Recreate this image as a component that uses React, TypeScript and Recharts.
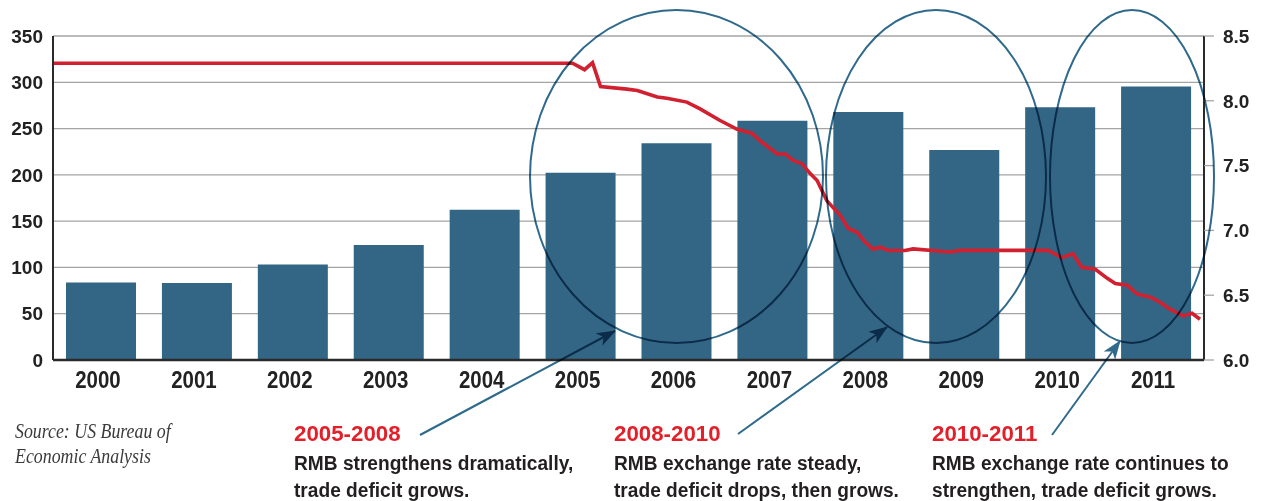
import React from 'react';
import { ComposedChart, Bar, Line, XAxis, YAxis, CartesianGrid } from 'recharts';

// US trade deficit with China, billions USD
const years = ['2000', '2001', '2002', '2003', '2004', '2005', '2006', '2007', '2008', '2009', '2010', '2011'];
const deficits = [83.8, 83.1, 103.1, 124.1, 162.3, 202.3, 234.1, 258.5, 268.0, 226.9, 273.1, 295.5];

// RMB per USD, keyed by months since Jan 2000
const rateMonths = [0, 65, 66.5, 67.5, 68.5, 71.8, 73.1, 75.6, 76.8, 79.3, 80.9, 83.4, 85.6, 87.4, 88.7, 90.6, 91.6, 92.6, 93.7, 94.7, 95.6, 96.8, 98.5, 99.5, 100.6, 101.6, 102.6, 103.5, 104.5, 106.6, 107.6, 112.2, 113.5, 124.5, 126.2, 127.6, 128.7, 130.4, 131.9, 132.9, 134.4, 135.6, 137.3, 138.5, 139.8, 141.4, 142.5, 143.5];
const rateValues = [8.29, 8.29, 8.24, 8.295, 8.11, 8.09, 8.08, 8.03, 8.02, 7.99, 7.94, 7.85, 7.78, 7.75, 7.68, 7.59, 7.59, 7.54, 7.515, 7.44, 7.385, 7.23, 7.115, 7.015, 6.985, 6.91, 6.855, 6.87, 6.845, 6.845, 6.857, 6.833, 6.846, 6.846, 6.79, 6.82, 6.715, 6.7, 6.63, 6.59, 6.577, 6.51, 6.485, 6.446, 6.39, 6.34, 6.36, 6.315];

const leftTicks = [0, 50, 100, 150, 200, 250, 300, 350];
const rightTicks = [6.0, 6.5, 7.0, 7.5, 8.0, 8.5];

const barData = years.map((y, i) => ({ year: y, deficit: deficits[i] }));
const rateData = rateMonths.map((m, i) => ({ m, rate: rateValues[i] }));

const SANS = '"Liberation Sans", Arial, Helvetica, sans-serif';
const SERIF = '"Liberation Serif", "Times New Roman", serif';

const XTick = (props: any) => {
  const { x, y, payload } = props;
  return (
    <g transform={`translate(${x - 3},${y}) scale(0.87,1)`}>
      <text x={0} y={0} textAnchor="middle" fontFamily={SANS} fontSize={23.5} fontWeight="bold" fill="#222">
        {payload.value}
      </text>
    </g>
  );
};

const ellipses = [
  { cx: 676.5, cy: 176.5, rx: 146.5, ry: 166.5 },
  { cx: 936, cy: 176.5, rx: 110, ry: 166.5 },
  { cx: 1132, cy: 176.5, rx: 82, ry: 166.5 },
];
const arrows = [
  { x1: 420, y1: 435, x2: 615, y2: 331 },
  { x1: 738, y1: 434, x2: 887, y2: 327 },
  { x1: 1052, y1: 435, x2: 1120, y2: 341 },
];
const notes = [
  { x: 294, title: '2005-2008', l1: 'RMB strengthens dramatically,', l2: 'trade deficit grows.' },
  { x: 614, title: '2008-2010', l1: 'RMB exchange rate steady,', l2: 'trade deficit drops, then grows.' },
  { x: 932, title: '2010-2011', l1: 'RMB exchange rate continues to', l2: 'strengthen, trade deficit grows.' },
];

export default function App() {
  return (
    <div style={{ position: 'absolute', left: 0, top: 0, width: 1261, height: 501, background: '#fff', overflow: 'hidden' }}>
      <ComposedChart width={1261} height={400} data={barData} margin={{ top: 36, right: 0, bottom: 0, left: 0 }}>
        <CartesianGrid yAxisId="l" xAxisId="c" vertical={false} stroke="#a4a4a4" strokeWidth={1.3} />
        <XAxis
          xAxisId="c"
          dataKey="year"
          type="category"
          height={40}
          axisLine={{ stroke: '#2a2a2a', strokeWidth: 2.5 }}
          tickLine={false}
          tickSize={0}
          tickMargin={28}
          tick={<XTick />}
          interval={0}
        />
        <XAxis xAxisId="t" type="number" dataKey="m" domain={[0, 144]} hide allowDataOverflow />
        <YAxis
          yAxisId="l"
          orientation="left"
          width={53}
          domain={[0, 350]}
          ticks={leftTicks}
          interval={0}
          axisLine={{ stroke: '#2a2a2a', strokeWidth: 2 }}
          tickLine={false}
          tickSize={0}
          tickMargin={10}
          tick={{ fontFamily: SANS, fontSize: 19, fontWeight: 'bold', fill: '#222' }}
        />
        <YAxis
          yAxisId="r"
          orientation="right"
          width={57}
          domain={[6, 8.5]}
          ticks={rightTicks}
          interval={0}
          axisLine={{ stroke: '#2a2a2a', strokeWidth: 2 }}
          tickLine={{ stroke: '#a4a4a4', strokeWidth: 1.3 }}
          tickSize={10}
          tickMargin={9}
          tickFormatter={(v: number) => v.toFixed(1)}
          tick={{ fontFamily: SANS, fontSize: 19, fontWeight: 'bold', fill: '#222' }}
        />
        <Bar xAxisId="c" yAxisId="l" dataKey="deficit" fill="#336684" barSize={70} isAnimationActive={false} />
        <Line
          xAxisId="t"
          yAxisId="r"
          data={rateData}
          dataKey="rate"
          type="linear"
          stroke="#d1202f"
          strokeWidth={3.6}
          dot={false}
          activeDot={false}
          isAnimationActive={false}
        />
      </ComposedChart>
      <svg
        width={1261}
        height={501}
        style={{ position: 'absolute', left: 0, top: 0, mixBlendMode: 'multiply', pointerEvents: 'none' }}
      >
        <defs>
          <marker id="ah" markerUnits="userSpaceOnUse" markerWidth={20} markerHeight={16} refX={18} refY={7} orient="auto">
            <path d="M0,0 L19,7 L0,14 L5,7 Z" fill="#2f6a8c" />
          </marker>
        </defs>
        {ellipses.map((e, i) => (
          <ellipse key={i} cx={e.cx} cy={e.cy} rx={e.rx} ry={e.ry} fill="none" stroke="#2f6a8c" strokeWidth={2} />
        ))}
        {arrows.map((a, i) => (
          <line key={i} x1={a.x1} y1={a.y1} x2={a.x2} y2={a.y2} stroke="#2f6a8c" strokeWidth={2} markerEnd="url(#ah)" />
        ))}
        <g transform="translate(15,0) scale(0.85,1)" fontFamily={SERIF} fontStyle="italic" fontSize={21} fill="#3a3a3a">
          <text x={0} y={438}>Source: US Bureau of</text>
          <text x={0} y={463}>Economic Analysis</text>
        </g>
        {notes.map((n, i) => (
          <g key={i}>
            <g transform={`translate(${n.x},441) scale(0.97,1)`}>
              <text x={0} y={0} fontFamily={SANS} fontSize={23} fontWeight="bold" fill="#e3202a">
                {n.title}
              </text>
            </g>
            <g transform={`translate(${n.x},0) scale(0.912,1)`} fontFamily={SANS} fontSize={21} fontWeight="bold" fill="#231f20">
              <text x={0} y={470}>{n.l1}</text>
              <text x={0} y={497}>{n.l2}</text>
            </g>
          </g>
        ))}
      </svg>
    </div>
  );
}
